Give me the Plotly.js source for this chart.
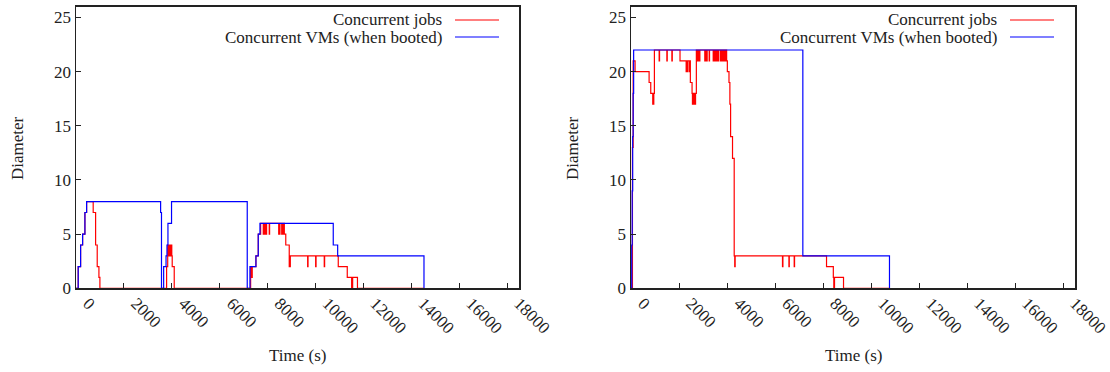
<!DOCTYPE html>
<html>
<head>
<meta charset="utf-8">
<script src="https://cdn.plot.ly/plotly-3.0.1.min.js"></script>
<style>
  html, body { margin: 0; padding: 0; background: #fff; }
  #chart { width: 1110px; height: 372px; }
</style>
</head>
<body>
<div id="chart"></div>
<script>
// ---------- data ----------
// Left panel: concurrent jobs (step series)
const L_jobs_t = [0, 92, 192, 276, 372, 443, 718, 819, 886, 957, 998,
  3784, 3830, 3850, 3870, 3890, 3905, 3925, 3945, 3965, 3985, 4000, 4018, 4102,
  7293, 7326, 7360, 7514, 7611, 7711,
  7820, 7840, 7860, 7880, 7900, 7920, 7940, 7960,
  8070, 8085,
  8465, 8480, 8500, 8517,
  8590, 8610, 8630, 8650, 8670, 8690,
  8700, 8760, 8905, 8950,
  9674, 9690, 10008, 10025, 10367, 10383,
  10952, 11328, 11511, 11553, 11754, 14532];
const L_jobs_v = [0, 2, 4, 5, 7, 8, 7, 4, 2, 1, 0,
  2, 4, 3, 4, 3, 4, 3, 4, 3, 4, 3, 2, 0,
  2, 1, 2, 3, 5, 6,
  5, 6, 5, 6, 5, 6, 5, 6,
  5, 6,
  5, 6, 5, 6,
  5, 6, 5, 6, 5, 6,
  5, 4, 2, 3,
  2, 3, 2, 3, 2, 3,
  2, 1, 0, 1, 0, 0];

// Left panel: concurrent VMs (when booted)
const L_vms_t = [0, 92, 192, 276, 372, 443, 3534, 3570, 3660, 3760, 3800, 3840, 3990,
  7151, 7264, 7514, 7611, 7682, 10743, 10927, 14532];
const L_vms_v = [0, 2, 4, 5, 7, 8, 7, 0, 2, 3, 4, 6, 8,
  0, 2, 3, 5, 6, 4, 3, 0];

// Right panel: concurrent jobs
const R_jobs_t = [0, 60, 90, 170, 754, 823, 906, 950, 975,
  1173, 1190, 1494, 1510, 1703, 1720, 2042,
  2298, 2320, 2350, 2365, 2431, 2450,
  2473, 2544,
  2560, 2590, 2610, 2640, 2660, 2690,
  2723,
  2740, 2755, 2775, 2790, 2810, 2825, 2850, 2870,
  3074, 3090, 3110, 3130, 3150, 3174,
  3257, 3272,
  3425, 3440, 3460, 3480, 3500, 3520, 3545, 3565, 3590, 3610, 3635, 3659,
  3734, 3750, 3770, 3790, 3810, 3830, 3850, 3870, 3895, 3915, 3940, 3960, 3985,
  4014, 4083, 4120, 4150, 4230, 4300, 4322, 4340,
  6312, 6330, 6580, 6595, 6800, 6815,
  8147, 8430, 8450, 8480, 8855, 10770];
const R_jobs_v = [0, 13, 21, 20, 19, 18, 17, 18, 22,
  21, 22, 21, 22, 21, 22, 21,
  20, 21, 20, 21, 20, 21,
  19, 18,
  17, 18, 17, 18, 17, 18,
  22,
  21, 22, 21, 22, 21, 22, 21, 22,
  21, 22, 21, 22, 21, 22,
  21, 22,
  21, 22, 21, 22, 21, 22, 21, 22, 21, 22, 21, 22,
  21, 22, 21, 22, 21, 22, 21, 22, 21, 22, 21, 22, 21,
  20, 19, 17, 14, 12, 3, 2, 3,
  2, 3, 2, 3, 2, 3,
  2, 1, 0, 1, 0, 0];

// Right panel: concurrent VMs
const R_vms_t = [0, 30, 50, 70, 90, 110, 7160, 10770];
const R_vms_v = [0, 4, 9, 14, 18, 22, 3, 0];

// Axis ticks / labels
const xTickVals = [0, 2000, 4000, 6000, 8000, 10000, 12000, 14000, 16000, 18000];
const xTickText = xTickVals.map(String);
const yTickVals = [0, 5, 10, 15, 20, 25];
const seriesNames = ['Concurrent jobs', 'Concurrent VMs (when booted)'];
const xTitle = 'Time (s)';
const yTitle = 'Diameter';

// ---------- styling ----------
const W = 1110, H = 372;
const FONT = 'Liberation Serif, Times New Roman, serif';
const RED = '#ff0000', BLUE = '#0000ff';
const px = x => x / W;
const py = y => 1 - y / H;

const panels = [
  {xa: 'x', ya: 'y', left: 76, right: 519, off: 0},
  {xa: 'x2', ya: 'y2', left: 631, right: 1075, off: 555}
];
const plotTop = 6.7, plotBottom = 288.3;

function step(t, v, name, color, xa, ya) {
  return {x: t, y: v, type: 'scatter', mode: 'lines', name: name,
    line: {color: color, width: 1.2, shape: 'hv'},
    xaxis: xa, yaxis: ya, showlegend: false, hoverinfo: 'skip'};
}

const data = [
  step(L_jobs_t, L_jobs_v, seriesNames[0], RED, 'x', 'y'),
  step(L_vms_t, L_vms_v, seriesNames[1], BLUE, 'x', 'y'),
  step(R_jobs_t, R_jobs_v, seriesNames[0], RED, 'x2', 'y2'),
  step(R_vms_t, R_vms_v, seriesNames[1], BLUE, 'x2', 'y2')
];

function makeX(p, anchor) {
  return {domain: [px(p.left), px(p.right)], anchor: anchor,
    range: [0, 18500], tickmode: 'array', tickvals: xTickVals, ticktext: xTickText,
    tickangle: 45, ticklabelshift: 12, ticklabelstandoff: -3,
    ticks: 'inside', ticklen: 5, tickwidth: 1, tickcolor: '#222',
    showline: true, mirror: true, linecolor: '#222', linewidth: 1.5,
    showgrid: false, zeroline: false, automargin: false,
    tickfont: {family: FONT, size: 17, color: '#222'}};
}
function makeY(p, anchor) {
  return {domain: [py(plotBottom), py(plotTop)], anchor: anchor,
    range: [0, 26], tickmode: 'array', tickvals: yTickVals, ticktext: yTickVals.map(String),
    ticks: 'inside', ticklen: 5, tickwidth: 1, tickcolor: '#222',
    showline: true, mirror: true, linecolor: '#222', linewidth: 1.5,
    showgrid: false, zeroline: false, automargin: false,
    tickfont: {family: FONT, size: 17, color: '#222'}};
}

const annotations = [];
const shapes = [];
panels.forEach(p => {
  const cx = (p.left + p.right) / 2;
  annotations.push({xref: 'paper', yref: 'paper', x: px(cx), y: py(355), text: xTitle,
    showarrow: false, xanchor: 'center', yanchor: 'middle',
    font: {family: FONT, size: 17, color: '#222'}});
  annotations.push({xref: 'paper', yref: 'paper', x: px(p.off + 17), y: py(148), text: yTitle,
    showarrow: false, textangle: -90, xanchor: 'center', yanchor: 'middle',
    font: {family: FONT, size: 17, color: '#222'}});
  const legY = [20, 37];
  const colors = [RED, BLUE];
  seriesNames.forEach((n, i) => {
    annotations.push({xref: 'paper', yref: 'paper', x: px(p.off + 444), y: py(legY[i]), text: n,
      showarrow: false, xanchor: 'right', yanchor: 'middle',
      font: {family: FONT, size: 17, color: '#222'}});
    shapes.push({type: 'line', xref: 'paper', yref: 'paper',
      x0: px(p.off + 455), x1: px(p.off + 499), y0: py(legY[i]), y1: py(legY[i]),
      line: {color: colors[i], width: 1.2}});
  });
});

const layout = {
  width: W, height: H, margin: {l: 0, r: 0, t: 0, b: 0},
  paper_bgcolor: '#fff', plot_bgcolor: '#fff',
  showlegend: false,
  xaxis: makeX(panels[0], 'y'), yaxis: makeY(panels[0], 'x'),
  xaxis2: makeX(panels[1], 'y2'), yaxis2: makeY(panels[1], 'x2'),
  annotations: annotations, shapes: shapes,
  font: {family: FONT, color: '#222'}
};

Plotly.newPlot('chart', data, layout, {staticPlot: true, displayModeBar: false});
</script>
</body>
</html>
